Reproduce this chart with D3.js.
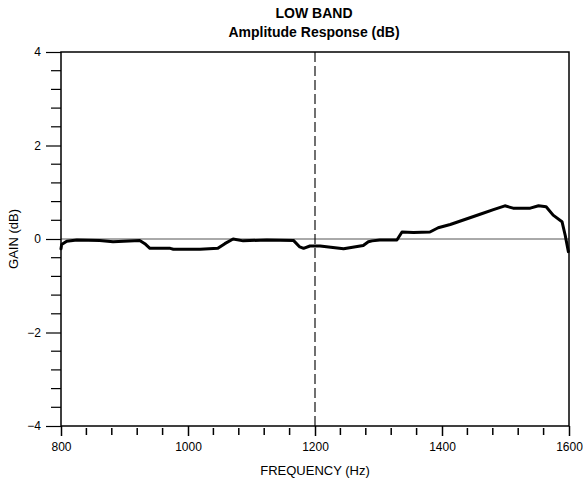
<!DOCTYPE html>
<html>
<head>
<meta charset="utf-8">
<script src="https://cdn.jsdelivr.net/npm/d3@7"></script>
<style>
  html, body { margin: 0; padding: 0; background: #fff; }
  svg { display: block; font-family: "Liberation Sans", Arial, Helvetica, sans-serif; }
</style>
</head>
<body>
<svg id="chart" width="583" height="480"></svg>
<script>
// Measured amplitude response, low band
const frequencies = [800, 801, 809, 825, 861, 882, 924, 932, 940, 972, 977, 1019, 1047, 1058, 1071, 1087, 1124, 1166, 1176, 1182, 1192, 1208, 1245, 1276, 1284, 1290, 1302, 1329, 1337, 1355, 1381, 1394, 1413, 1460, 1481, 1499, 1512, 1539, 1552, 1564, 1575, 1589, 1594, 1599];
const gains =       [-0.21, -0.12, -0.05, -0.02, -0.03, -0.06, -0.03, -0.1, -0.2, -0.2, -0.22, -0.22, -0.2, -0.1, 0.0, -0.04, -0.02, -0.03, -0.17, -0.2, -0.15, -0.15, -0.21, -0.14, -0.06, -0.04, -0.02, -0.02, 0.15, 0.14, 0.15, 0.24, 0.31, 0.53, 0.63, 0.71, 0.66, 0.66, 0.71, 0.69, 0.51, 0.37, 0.08, -0.27];

const xMajorTicks = [800, 1000, 1200, 1400, 1600];
const yMajorTicks = [-4, -2, 0, 2, 4];
const xDomain = [800, 1600];
const yDomain = [-4, 4];
const markerFreq = 1200;

const svg = d3.select("#chart");
const margin = { top: 52, right: 14, bottom: 54, left: 61 };
const W = 583, H = 480;
const iw = W - margin.left - margin.right;
const ih = H - margin.top - margin.bottom;

const x = d3.scaleLinear().domain(xDomain).range([0, iw]);
const y = d3.scaleLinear().domain(yDomain).range([ih, 0]);

const g = svg.append("g").attr("transform", `translate(${margin.left},${margin.top})`);

// Titles
svg.append("text").attr("x", 314).attr("y", 18).attr("text-anchor", "middle")
  .attr("font-size", 14).attr("font-weight", "bold").text("LOW BAND");
svg.append("text").attr("x", 314).attr("y", 37).attr("text-anchor", "middle")
  .attr("font-size", 14).attr("font-weight", "bold").text("Amplitude Response (dB)");

// Zero reference line
g.append("line").attr("x1", 0).attr("x2", iw).attr("y1", y(0)).attr("y2", y(0))
  .attr("stroke", "#555").attr("stroke-width", 1);

// Dashed marker at centre frequency
g.append("line").attr("x1", x(markerFreq)).attr("x2", x(markerFreq)).attr("y1", 0).attr("y2", ih)
  .attr("stroke", "#111").attr("stroke-width", 1.2).attr("stroke-dasharray", "10,4");

// Minor ticks
const xMinor = d3.range(800, 1600.1, 40).filter(v => !xMajorTicks.includes(v));
const yMinor = d3.range(-4, 4.01, 0.4).map(v => +v.toFixed(2)).filter(v => !yMajorTicks.includes(Math.round(v * 100) / 100));

// Bottom axis
const xAxis = g.append("g").attr("transform", `translate(0,${ih})`)
  .call(d3.axisBottom(x).tickValues(xMajorTicks).tickSize(10).tickPadding(6).tickFormat(d3.format("d")));
xAxis.select(".domain").remove();
xAxis.selectAll(".tick line").attr("stroke", "#000").attr("stroke-width", 1.5);
xAxis.selectAll(".tick text").attr("font-size", 12).attr("fill", "#000").attr("font-family", "Liberation Sans, Arial, sans-serif");
xAxis.selectAll(".minor").data(xMinor).enter().append("line")
  .attr("x1", d => x(d)).attr("x2", d => x(d)).attr("y1", 2).attr("y2", 9)
  .attr("stroke", "#000").attr("stroke-width", 1.5);

// Left axis
const yAxis = g.append("g")
  .call(d3.axisLeft(y).tickValues(yMajorTicks).tickSize(15).tickPadding(5).tickFormat(d3.format("d")));
yAxis.select(".domain").remove();
yAxis.selectAll(".tick line").attr("stroke", "#000").attr("stroke-width", 1.2);
yAxis.selectAll(".tick text").attr("font-size", 12).attr("fill", "#000").attr("font-family", "Liberation Sans, Arial, sans-serif");
yAxis.selectAll(".minor").data(yMinor).enter().append("line")
  .attr("x1", -10).attr("x2", 0).attr("y1", d => y(d)).attr("y2", d => y(d))
  .attr("stroke", "#000").attr("stroke-width", 1.2);

// Frame
g.append("rect").attr("x", 0).attr("y", 0).attr("width", iw).attr("height", ih)
  .attr("fill", "none").attr("stroke", "#000").attr("stroke-width", 1.5);

// Response curve
const line = d3.line().x((d, i) => x(frequencies[i])).y(d => y(d));
g.append("path").datum(gains).attr("d", line)
  .attr("fill", "none").attr("stroke", "#000").attr("stroke-width", 3)
  .attr("stroke-linejoin", "round").attr("stroke-linecap", "round");

// Axis titles
svg.append("text").attr("x", margin.left + iw / 2).attr("y", 475).attr("text-anchor", "middle")
  .attr("font-size", 13).text("FREQUENCY (Hz)");
svg.append("text").attr("transform", `translate(18,${margin.top + ih / 2}) rotate(-90)`)
  .attr("text-anchor", "middle").attr("font-size", 13).text("GAIN (dB)");
</script>
</body>
</html>
